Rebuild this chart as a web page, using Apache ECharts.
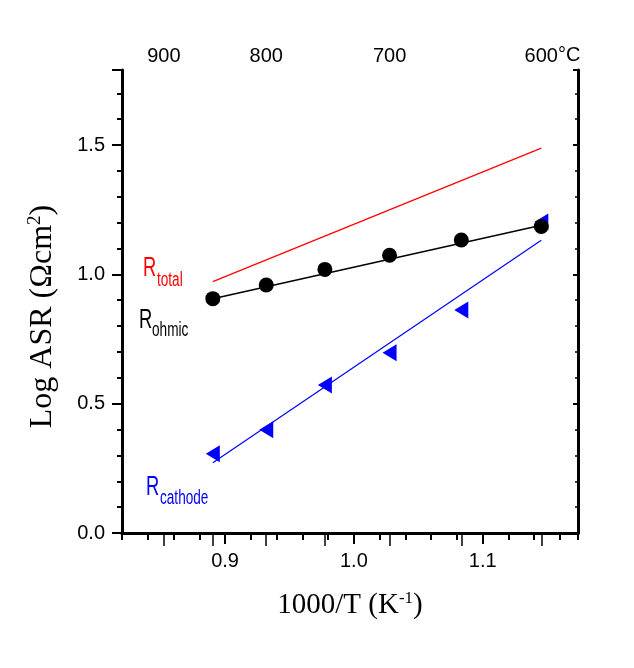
<!DOCTYPE html>
<html><head><meta charset="utf-8">
<script src="https://cdn.jsdelivr.net/npm/echarts@6/dist/echarts.min.js"></script>
<style>html,body{margin:0;padding:0;background:#fff}#c{width:634px;height:668px}</style>
</head><body><div id="c"></div>
<script>
// ---- data ----
const xVals = [0.8905, 0.9320, 0.9775, 1.0277, 1.0834, 1.1455];   // 1000/T at 850..600 °C
const ohmic = [0.906, 0.959, 1.019, 1.074, 1.133, 1.185];
const cathode = [0.306, 0.399, 0.572, 0.697, 0.862, 1.202];
const fitX = [0.8905, 1.1455];
const totalFit = [0.972, 1.488];
const ohmicFit = [0.906, 1.190];
const cathodeFit = [0.272, 1.132];
const xMajorLabels = [0.9, 1.0, 1.1];
const yMajorLabels = [0, 0.5, 1.0, 1.5];
const tempMajor = [900, 800, 700, 600];
const tempMinor = [850, 750, 650];

const X_MIN = 0.82, X_MAX = 1.174, Y_MIN = 0, Y_MAX = 1.79;
const toInvT = t => 1000 / (t + 273);
const sans = "'Liberation Sans', Arial, sans-serif";
const serif = "'Liberation Serif', 'Times New Roman', serif";
const lineW = 3;
const cond = 0.68; // horizontal condensation of the annotation font

const chart = echarts.init(document.getElementById('c'), null, {renderer: 'canvas'});
const pairs = (xs, ys) => xs.map((x, i) => [x, ys[i]]);

const option = {
  animation: false,
  backgroundColor: '#fff',
  grid: {left: 122, right: 56, top: 70, bottom: 135, containLabel: false},
  xAxis: [
    {
      type: 'value', position: 'bottom', min: X_MIN, max: X_MAX, interval: 0.02,
      axisLine: {show: true, lineStyle: {color: '#000', width: lineW}},
      axisTick: {show: true, inside: false, length: 7, lineStyle: {color: '#000', width: 2}},
      axisLabel: {customValues: xMajorLabels, formatter: v => v.toFixed(1), fontSize: 20, fontFamily: sans, color: '#000', margin: 18},
      splitLine: {show: false},
      name: '1000/T (K{sup|-1})', nameLocation: 'middle', nameGap: 57,
      nameTextStyle: {fontFamily: serif, fontSize: 29, color: '#000',
        rich: {sup: {fontFamily: serif, fontSize: 17, color: '#000', verticalAlign: 'top', padding: [0, 0, 14, 0]}}}
    },
    {
      type: 'value', position: 'bottom', min: X_MIN, max: X_MAX,
      axisLine: {show: false},
      axisTick: {show: true, inside: false, length: 11, customValues: xMajorLabels, lineStyle: {color: '#000', width: 2}},
      axisLabel: {show: false}, splitLine: {show: false}
    },
    {
      type: 'value', position: 'top', min: X_MIN, max: X_MAX,
      axisLine: {show: true, lineStyle: {color: '#000', width: lineW}},
      axisTick: {show: true, inside: true, length: 13, customValues: tempMajor.concat(tempMinor).map(toInvT), lineStyle: {color: '#000', width: 1.5}},
      axisLabel: {customValues: tempMajor.map(toInvT), formatter: v => String(Math.round(1000 / v - 273)), fontSize: 20, fontFamily: sans, color: '#000', margin: 4},
      splitLine: {show: false}
    }
  ],
  yAxis: [
    {
      type: 'value', position: 'left', min: Y_MIN, max: Y_MAX, interval: 0.1,
      axisLine: {show: true, lineStyle: {color: '#000', width: lineW}},
      axisTick: {show: true, inside: false, length: 5, lineStyle: {color: '#000', width: 2}},
      axisLabel: {customValues: yMajorLabels, formatter: v => v.toFixed(1), fontSize: 20, fontFamily: sans, color: '#000', margin: 17},
      splitLine: {show: false},
      name: 'Log ASR (Ωcm{sup|2})', nameLocation: 'middle', nameGap: 62,
      nameTextStyle: {fontFamily: serif, fontSize: 32, color: '#000', padding: [0, 30, 0, 0],
        rich: {sup: {fontFamily: serif, fontSize: 19, color: '#000', verticalAlign: 'top', padding: [0, 0, 15, 0]}}}
    },
    {
      type: 'value', position: 'left', min: Y_MIN, max: Y_MAX, interval: 0.5,
      axisLine: {show: false},
      axisTick: {show: true, inside: false, length: 10, lineStyle: {color: '#000', width: 2}},
      axisLabel: {show: false}, splitLine: {show: false}
    },
    {
      type: 'value', position: 'right', min: Y_MIN, max: Y_MAX, interval: 0.1,
      axisLine: {show: true, lineStyle: {color: '#000', width: lineW}},
      axisTick: {show: true, inside: true, length: 3, lineStyle: {color: '#000', width: 1.5}},
      axisLabel: {show: false}, splitLine: {show: false}
    },
    {
      type: 'value', position: 'right', min: Y_MIN, max: Y_MAX, interval: 0.5,
      axisLine: {show: false},
      axisTick: {show: true, inside: true, length: 5, lineStyle: {color: '#000', width: 2}},
      axisLabel: {show: false}, splitLine: {show: false}
    }
  ],
  series: [
    {type: 'line', name: 'Rtotal', data: pairs(fitX, totalFit), showSymbol: false, symbol: 'none',
      lineStyle: {color: '#ff0000', width: 1.2}, silent: true},
    {type: 'line', name: 'Rcathode fit', data: pairs(fitX, cathodeFit), showSymbol: false, symbol: 'none',
      lineStyle: {color: '#0000ff', width: 1.2}, silent: true},
    {type: 'line', name: 'Rohmic fit', data: pairs(fitX, ohmicFit), showSymbol: false, symbol: 'none',
      lineStyle: {color: '#000', width: 1.5}, silent: true},
    {type: 'scatter', name: 'Rcathode', data: pairs(xVals, cathode), symbol: 'triangle', symbolRotate: 90,
      symbolSize: [17, 14], itemStyle: {color: '#0000ff', opacity: 1}, silent: true},
    {type: 'scatter', name: 'Rohmic', data: pairs(xVals, ohmic), symbol: 'circle', symbolSize: 15,
      itemStyle: {color: '#000', opacity: 1}, silent: true}
  ],
  graphic: [
    {type: 'text', left: 558, top: 45, style: {text: '°C', font: '20px ' + sans, fill: '#000'}},
    {type: 'text', left: 143, top: 255, scaleX: cond, style: {text: 'R', font: '27px ' + sans, fill: '#ff0000'}},
    {type: 'text', left: 157, top: 270, scaleX: cond, style: {text: 'total', font: '20px ' + sans, fill: '#ff0000'}},
    {type: 'text', left: 139, top: 307, scaleX: cond, style: {text: 'R', font: '27px ' + sans, fill: '#000'}},
    {type: 'text', left: 152, top: 320, scaleX: cond, style: {text: 'ohmic', font: '20px ' + sans, fill: '#000'}},
    {type: 'text', left: 146, top: 474, scaleX: cond, style: {text: 'R', font: '27px ' + sans, fill: '#0000ff'}},
    {type: 'text', left: 160, top: 488, scaleX: cond, style: {text: 'cathode', font: '20px ' + sans, fill: '#0000ff'}}
  ]
};
chart.setOption(option);
</script>
</body></html>
